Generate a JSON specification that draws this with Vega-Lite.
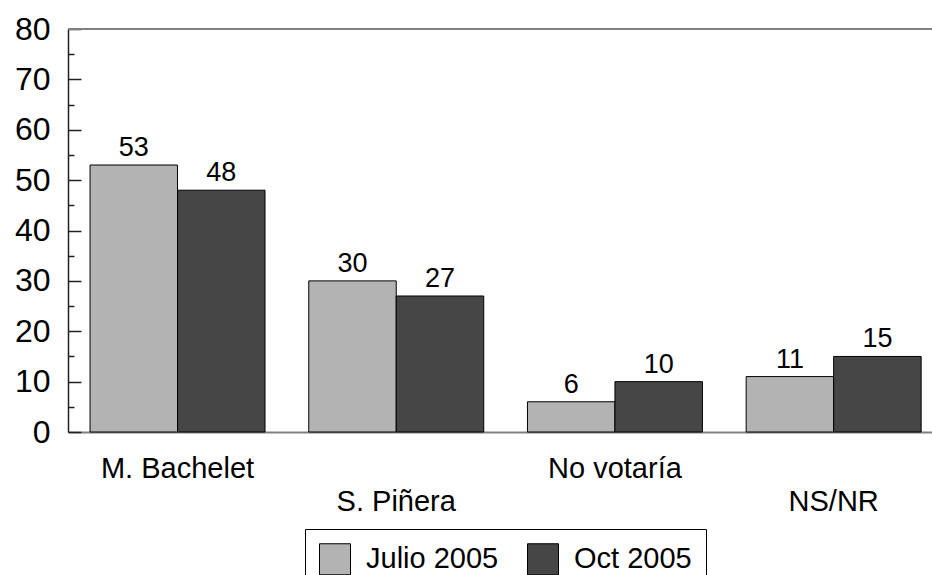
{
  "$schema": "https://vega.github.io/schema/vega-lite/v6.json",
  "width": 864,
  "height": 403,
  "autosize": {"type": "none"},
  "padding": {"left": 68, "top": 29, "right": 0, "bottom": 143},
  "config": {
    "font": "Liberation Sans",
    "view": {"stroke": null},
    "axis": {"grid": false}
  },
  "data": {
    "values": [
      {"candidato": "M. Bachelet", "periodo": "Julio 2005", "valor": 53},
      {"candidato": "M. Bachelet", "periodo": "Oct 2005", "valor": 48},
      {"candidato": "S. Piñera", "periodo": "Julio 2005", "valor": 30},
      {"candidato": "S. Piñera", "periodo": "Oct 2005", "valor": 27},
      {"candidato": "No votaría", "periodo": "Julio 2005", "valor": 6},
      {"candidato": "No votaría", "periodo": "Oct 2005", "valor": 10},
      {"candidato": "NS/NR", "periodo": "Julio 2005", "valor": 11},
      {"candidato": "NS/NR", "periodo": "Oct 2005", "valor": 15}
    ]
  },
  "resolve": {"axis": {"y": "independent"}},
  "layer": [
    {
      "mark": {"type": "bar", "stroke": "#000000", "strokeWidth": 1},
      "encoding": {
        "x": {
          "field": "candidato", "type": "nominal", "sort": null,
          "scale": {"paddingInner": 0.2, "paddingOuter": 0.0752, "align": 0.67},
          "axis": {
            "title": null, "orient": "bottom",
            "domainColor": "#808080", "domainWidth": 2,
            "ticks": false, "labelAngle": 0,
            "labelFontSize": 29, "labelColor": "#000000",
            "labelPadding": 22, "labelBaseline": "top", "labelLineHeight": 33,
            "labelExpr": "indexof(['S. Piñera','NS/NR'], datum.label) >= 0 ? ['', datum.label] : datum.label"
          }
        },
        "xOffset": {"field": "periodo", "type": "nominal", "sort": null},
        "y": {
          "field": "valor", "type": "quantitative",
          "scale": {"domain": [0, 80], "nice": false},
          "axis": {
            "title": null, "orient": "left",
            "values": [0, 10, 20, 30, 40, 50, 60, 70, 80],
            "domainColor": "#222222", "domainWidth": 1.5,
            "tickColor": "#222222", "tickWidth": 1.5, "tickSize": -13,
            "labelFontSize": 32, "labelColor": "#000000", "labelPadding": 31
          }
        },
        "color": {
          "field": "periodo", "type": "nominal", "sort": null,
          "scale": {"domain": ["Julio 2005", "Oct 2005"], "range": ["#b3b3b3", "#464646"]},
          "legend": {
            "title": null, "orient": "none", "direction": "horizontal",
            "legendX": 237, "legendY": 500,
            "symbolType": "square", "symbolSize": 961,
            "symbolStrokeColor": "#000000", "symbolStrokeWidth": 1, "symbolOpacity": 1,
            "labelFontSize": 29, "labelColor": "#000000", "labelOffset": 15,
            "columnPadding": 26, "padding": 14,
            "strokeColor": "#000000", "fillColor": "#ffffff"
          }
        }
      }
    },
    {
      "mark": {"type": "text", "baseline": "alphabetic", "dy": -9, "fontSize": 27, "color": "#000000"},
      "encoding": {
        "x": {"field": "candidato", "type": "nominal", "sort": null},
        "xOffset": {"field": "periodo", "type": "nominal", "sort": null},
        "y": {"field": "valor", "type": "quantitative", "axis": null},
        "text": {"field": "valor", "type": "quantitative"}
      }
    },
    {
      "mark": {"type": "rule", "color": "#808080", "strokeWidth": 2},
      "encoding": {
        "y": {
          "datum": 80, "type": "quantitative",
          "axis": {
            "title": null, "orient": "left",
            "values": [5, 15, 25, 35, 45, 55, 65, 75],
            "domain": false, "labels": false,
            "tickColor": "#222222", "tickWidth": 1.5, "tickSize": -6
          }
        }
      }
    }
  ]
}
